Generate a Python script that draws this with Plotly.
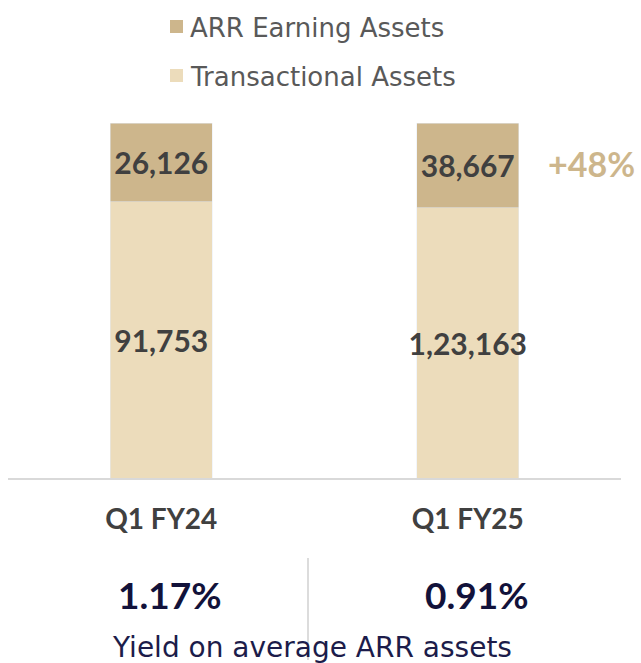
import plotly.graph_objects as go

# Asset mix by quarter (in crore)
categories = ["Q1 FY24", "Q1 FY25"]
transactional_assets = [91753, 123163]
arr_assets = [26126, 38667]
yield_on_arr = ["1.17%", "0.91%"]
series_names = ["ARR Earning Assets", "Transactional Assets"]

ARR_COLOR = "#cdb68c"
TXN_COLOR = "#ecdcbb"
LABEL_COLOR = "#404040"
NAVY = "#12123a"
BOLD_FONT = "Lato, sans-serif"
TEXT_FONT = "DejaVu Sans, sans-serif"

W, H = 641, 663
ML, MR, MT, MB = 8, 20, 123, 185
PW, PH = W - ML - MR, H - MT - MB


def indian(n):
    s = str(int(n))
    if len(s) <= 3:
        return s
    head, tail = s[:-3], s[-3:]
    parts = []
    while len(head) > 2:
        parts.insert(0, head[-2:])
        head = head[:-2]
    if head:
        parts.insert(0, head)
    return ",".join(parts) + "," + tail


def px_x(px):
    return (px - ML) / PW


def px_y(py):
    return (H - MB - py) / PH


totals = [t + a for t, a in zip(transactional_assets, arr_assets)]
txn_share = [100 * t / s for t, s in zip(transactional_assets, totals)]
arr_share = [100 * a / s for a, s in zip(arr_assets, totals)]

value_font = dict(family=BOLD_FONT, size=30, color=LABEL_COLOR, weight="bold")

fig = go.Figure()
fig.add_bar(
    x=categories, y=txn_share, name=series_names[1], marker_color=TXN_COLOR,
    text=[indian(v) for v in transactional_assets], textposition="inside",
    insidetextanchor="middle", textangle=0, constraintext="none",
    textfont=value_font, width=0.332, showlegend=False, hoverinfo="skip",
)
fig.add_bar(
    x=categories, y=arr_share, name=series_names[0], marker_color=ARR_COLOR,
    text=[indian(v) for v in arr_assets], textposition="inside",
    insidetextanchor="middle", textangle=0, constraintext="none",
    textfont=value_font, width=0.332, showlegend=False, hoverinfo="skip",
)

shapes = []
annotations = []

# legend swatches and labels
for i, (name, color) in enumerate(zip(series_names, [ARR_COLOR, TXN_COLOR])):
    cy = 26 + 49 * i
    shapes.append(dict(type="rect", xref="paper", yref="paper",
                       x0=px_x(170), x1=px_x(183), y0=px_y(cy - 6), y1=px_y(cy + 7),
                       fillcolor=color, line_width=0))
    annotations.append(dict(xref="paper", yref="paper", x=px_x(188), y=px_y(cy + 2),
                            text=name, showarrow=False, xanchor="left", yanchor="middle",
                            font=dict(family=TEXT_FONT, size=26, color="#595959")))

# growth in ARR earning assets
growth = (arr_assets[1] / arr_assets[0] - 1) * 100
annotations.append(dict(x=categories[1], y=100 - arr_share[1] / 2, text=f"+{growth:.0f}%",
                        showarrow=False, xshift=124, yshift=2,
                        font=dict(family=BOLD_FONT, size=34, color=ARR_COLOR, weight="bold")))

# yield figures
for cat, yv in zip(categories, yield_on_arr):
    annotations.append(dict(x=cat, yref="paper", y=px_y(594), text=yv, showarrow=False,
                            xshift=9, yanchor="middle",
                            font=dict(family=BOLD_FONT, size=37, color=NAVY, weight="bold")))
annotations.append(dict(xref="paper", yref="paper", x=px_x(312), y=px_y(647),
                        text="Yield on average ARR assets", showarrow=False, yanchor="middle",
                        font=dict(family=TEXT_FONT, size=28, color="#1c1c4a")))
shapes.append(dict(type="line", xref="paper", yref="paper",
                   x0=px_x(308), x1=px_x(308), y0=px_y(558), y1=px_y(660),
                   line=dict(color="#d0d0d0", width=1.5)))

fig.update_layout(
    width=W, height=H, barmode="stack",
    margin=dict(l=ML, r=MR, t=MT, b=MB),
    paper_bgcolor="white", plot_bgcolor="white",
    shapes=shapes, annotations=annotations,
    xaxis=dict(range=[-0.5, 1.5], showline=True, linecolor="#d9d9d9", linewidth=1.5,
               ticks="", showgrid=False, ticklabelstandoff=16,
               tickfont=dict(family=BOLD_FONT, size=28, color=LABEL_COLOR, weight="bold")),
    yaxis=dict(range=[0, 100], visible=False, showgrid=False),
)

fig.write_html("out.html")
